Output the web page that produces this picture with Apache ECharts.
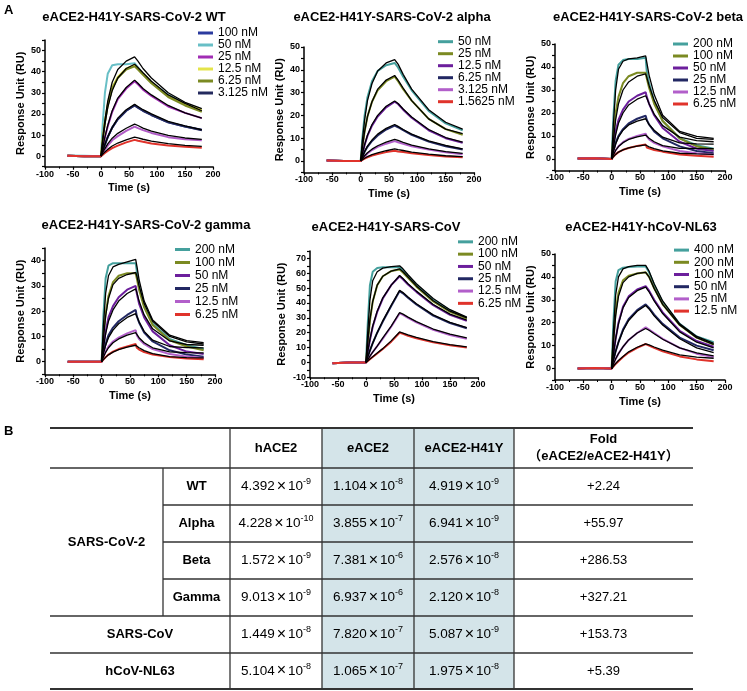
<!DOCTYPE html>
<html><head><meta charset="utf-8">
<script src="https://cdn.jsdelivr.net/npm/echarts@6/dist/echarts.min.js"></script>
<style>html,body{margin:0;padding:0;background:#fff}#c{width:747px;height:691px}</style>
</head><body><div id="c"></div>
<script>
// ---------- DATA ----------
const tData = [-60,-30,0,3,7,12,20,30,45,60,62,66,75,90,120,150,180];
const tFit  = [0,3,7,12,20,30,45,60,62,66,75,90,120,150,180];
const xTicks = [-100,-50,0,50,100,150,200];

const titles = ['eACE2-H41Y-SARS-CoV-2 WT','eACE2-H41Y-SARS-CoV-2 alpha','eACE2-H41Y-SARS-CoV-2 beta',
                'eACE2-H41Y-SARS-CoV-2 gamma','eACE2-H41Y-SARS-CoV','eACE2-H41Y-hCoV-NL63'];

const wtConc = ['100 nM','50 nM','25 nM','12.5 nM','6.25 nM','3.125 nM'];
const wtResp = [
  [0.2,0,0,2.5,5.5,9,13.5,17.5,21.5,24,23.8,23,21.5,19.5,16,14,12.5],
  [0.3,0.2,0,15,30,39,43,43.5,43.5,44,43.5,42,39,35,29,25,22],
  [0.2,0,0,4,9,14,21,27,32,35.5,35,34,31.5,28.5,23.5,20.5,18],
  [0.2,0,0,8,16.5,24.5,32.5,37.5,41.5,43,42.5,41.5,39,35,28.5,24.5,22],
  [0.2,0,0,8,16,24,32,37,41,42.5,42,41,38.5,34.5,28,24,21],
  [0.2,0,0,2.5,5.5,9,13.5,17.5,21.5,24,23.8,23,21.5,19.5,16,14,12.3],
  [0.2,0,0,1.5,3,5,7.5,9.5,12,14,13.8,13.3,12.3,11,9,8,7.5],
  [0.2,0,0,0.7,1.5,2.5,3.8,5,6.5,7.7,7.6,7.3,6.8,6,5,4.4,4]
];
const wtFit = [
  [0,8,17,26,35,41,45,47,46.5,45,41.5,37,30,25.5,22.5],
  [0,7,15,23,31,37,41.5,43.5,43,42,39.5,35.5,29,25,21.5],
  [0,4,9,14.5,21.5,27.5,32.5,36,35.5,34.5,32,29,24,20.5,18],
  [0,2.5,5.5,9,13.5,18,22,24.5,24.2,23.5,22,20,16.5,14.3,12.5],
  [0,1.7,3.6,5.8,8.5,10.8,13.2,15.2,15,14.5,13.3,11.8,9.8,8.6,7.9],
  [0,0.9,2,3.2,4.8,6.2,7.7,9,8.9,8.6,8,7.1,5.9,5.1,4.6]
];

const alphaConc = ['50 nM','25 nM','12.5 nM','6.25 nM','3.125 nM','1.5625 nM'];
const alphaResp = [
  [0.3,0,0,10,20,28,35,39.5,42,43,42.5,41,37,31,22,16.5,13.5],
  [0.2,0,0,6,13,19.5,26,31,35,37,36.5,35,31.5,26.5,18.5,14,11.5],
  [0.2,0,0,3,7,11,15.5,19.5,23.5,26,25.7,25,22.5,19,13.5,10,8],
  [0.2,0,0,1.7,4,6.2,8.8,11.2,13.8,15.5,15.3,14.8,13.5,11.5,8.5,6.5,5],
  [0.2,0,0,1,2,3.3,4.8,6.2,7.6,8.7,8.5,8.2,7.5,6.5,5,3.8,3],
  [0.2,0,0,0.5,1,1.6,2.4,3.1,3.9,4.5,4.4,4.2,3.9,3.4,2.6,2,1.6]
];
const alphaFit = [
  [0,9,18,26.5,34,39.5,43,44.5,44,42.5,38,31.5,22.5,17,14],
  [0,6,13,19.5,26,31.5,35.5,37.5,37,35.5,32,26.5,18.5,14,12],
  [0,3.2,7.2,11.3,16,20,24,26.3,26,25.2,22.8,19.3,13.8,10.3,8.3],
  [0,1.8,4.2,6.5,9.2,11.8,14.3,16,15.8,15.2,13.8,11.8,8.8,6.8,5.3],
  [0,1.1,2.3,3.6,5.2,6.7,8.3,9.5,9.4,9,8.2,7,5.3,4.1,3.3],
  [0,0.6,1.2,1.9,2.8,3.6,4.5,5.3,5.2,5,4.6,3.9,3,2.3,1.9]
];

const betaConc = ['200 nM','100 nM','50 nM','25 nM','12.5 nM','6.25 nM'];
const betaResp = [
  [0.2,0.3,0,18,34,41,43,43.5,43.5,44,38,33,25,16.5,9,6,4.5],
  [0.2,0.3,0,10,20,27,33,36,37.5,37.5,35,31,24,16.5,9,5.5,4],
  [0.2,0.3,0,6,12,17,21.5,25,27.5,29,27,24,19,13.5,7.5,4.5,3.5],
  [0.2,0.3,0,3.5,7,10,13,15.5,17.5,18.8,17,15,12,9,5.5,3.5,2.5],
  [0.2,0.3,0,2,3.8,5.5,7.3,8.7,10,11,9.8,8.5,7,5.5,3.5,2.5,2],
  [0.2,0.3,0,1,2,3,4,4.8,5.7,6.3,5,4.6,3.9,3.2,2,1.4,1]
];
const betaFit = [
  [0,15,30,39,42.5,43.5,44,44.8,42,36.5,28,19,12,9.8,9],
  [0,8,17,24,30,33.5,36,37,35.5,32,25.5,18,11.5,9,8.5],
  [0,5,10.5,15.5,20,23.5,26,27.5,26.5,24,19.5,14.5,9.5,8,7.5],
  [0,3,6.5,9.5,12.5,14.8,16.5,17.5,16.8,15,12.5,9.5,7,6.6,6.5],
  [0,1.8,3.7,5.4,7.1,8.5,9.6,10.4,10,9,7.5,5.8,4.6,4.6,4.5],
  [0,0.9,2,3,4,4.8,5.6,6.1,5.8,5.3,4.5,3.5,2.5,2.2,2]
];

const gammaConc = ['200 nM','100 nM','50 nM','25 nM','12.5 nM','6.25 nM'];
const gammaResp = [
  [0,0,0,18,33,38,39,39,39,39,36,30,22,15,9,6.5,5],
  [0,0,0,10,19,26,31.5,34,35,35,33,28.5,21.5,14.5,8.5,6,4.5],
  [0,0,0,6,12,17.5,22,25.5,28.5,30,27,23,17.5,12,6.5,4,3],
  [0,0,0,3.5,7,10.5,13.5,16,18.5,20.5,18,15.5,11.5,8,4.5,2.8,2],
  [0,0,0,2,4,6,8,9.5,11.2,12.5,10.5,9,7,5,3,2,1.5],
  [0,0,0,0.8,1.8,2.8,4,5,6,7,5.5,4.8,3.8,2.8,1.8,1.3,1]
];
const gammaFit = [
  [0,14,27,34,37.5,38.5,39.5,40.5,38,32.5,24,16.5,10.5,8.3,7.5],
  [0,9,18,25,30.5,33,34.5,35.3,34,30,23,16,10,7.8,7],
  [0,5.5,11,16,20.5,24,27,28.8,27.5,24,18.5,13,8.2,6.8,6.5],
  [0,3.2,6.5,9.5,12.5,15,17.5,19,18,15.8,12,8.5,6,5.6,5.5],
  [0,1.8,3.7,5.5,7.5,9,10.5,11.5,10.8,9.5,7.5,5.5,3.9,3.6,3.5],
  [0,0.8,1.7,2.7,3.8,4.8,5.8,6.5,6.1,5.5,4.4,3.2,2,1.6,1.5]
];

const sarsConc = ['200 nM','100 nM','50 nM','25 nM','12.5 nM','6.25 nM'];
const sarsResp = [
  [-0.5,0,0,25,52,61,63.5,64,64,64,63.5,62,58,52,42,35,30],
  [-0.5,0,0,12,28,41,52,58,61.5,62.5,62,60.5,57,51,41,34,29.5],
  [-0.5,0,0,7,15,24,34,43,52,58,57.5,56,52.5,47.5,38.5,32,28],
  [-0.5,0,0,3.5,8,13,20,27.5,38,48,47.5,46.5,43.5,39,31.5,26.5,23],
  [-0.5,0,0,1.8,4.2,7,11,16,24,33,32.8,32,30,27,22,18.5,16],
  [-0.5,0,0,0.9,2.2,3.7,6,9,14,20,19.8,19.3,18,16.3,13.5,11.5,10]
];
const sarsFit = [
  [0,20,42,55,61,63.5,64.5,65,64.5,63,59,53,43,35.5,30.5],
  [0,13,29,41,52,58,61.5,63,62.5,61,57.5,51.5,41.5,34.5,30],
  [0,7,15.5,24.5,34.5,43.5,52,58.5,58,56.5,53,48,39,32.5,28.5],
  [0,3.5,8,13,20,28,38.5,48.5,48,47,44,39.5,32,27,23.5],
  [0,1.8,4.2,7,11,16.5,24.5,33.5,33.3,32.5,30.5,27.5,22.5,19,16.5],
  [0,1,2.3,3.9,6.3,9.3,14.5,20.5,20.3,19.8,18.5,16.8,14,12,10.5]
];

const nl63Conc = ['400 nM','200 nM','100 nM','50 nM','25 nM','12.5 nM'];
const nl63Resp = [
  [0,0.2,0,20,38,43,44,44.3,44.5,44.5,44,42,36.5,29,19.5,14,11.5],
  [0,0.2,0,12,25,33,38.5,40.5,41.5,42,41.5,40,35,28,19,13.5,10.5],
  [0,0.2,0,6,13,20,27,31.5,34.5,36,35.5,34,30,24.5,16.5,12,9.5],
  [0,0.2,0,3.5,7.5,11.5,17,21.5,25.5,28,27.5,26.5,23.5,19.5,13.5,10,8],
  [0,0.2,0,2,4.2,6.5,9.5,12.5,15.5,18,17.8,17,15.5,13,9,6.5,5],
  [0,0.2,0,0.8,2,3.2,5,7,9,10.7,10.5,10,9,7.5,5.3,4,3.2]
];
const nl63Fit = [
  [0,16,32,40,43.5,44.5,45,45,44.5,42.5,37,29.5,19.5,14,11],
  [0,11,23,31.5,37.5,40,41.5,42,41.5,40,35,28,19,13.5,10.5],
  [0,6,13,19.5,26.5,31,34,35.5,35,33.5,29.5,24,16,11.5,9],
  [0,3.5,7.5,11.5,16.5,21,25,27.5,27,26,23,19,13,9,7],
  [0,2,4.2,6.5,9.5,12.5,15.5,17.5,17.3,16.7,15.2,12.8,9,6.8,5.5],
  [0,1,2.2,3.5,5.3,7.3,9.3,10.8,10.7,10.3,9.4,8,6,5,4.5]
];

// Table B
const tblRows   = ['WT','Alpha','Beta','Gamma'];
const tblGroups = ['SARS-CoV-2','SARS-CoV','hCoV-NL63'];
const tblCols   = ['hACE2','eACE2','eACE2-H41Y'];
const hMant = ['4.392','4.228','1.572','9.013','1.449','5.104'];
const hExp  = ['-9','-10','-9','-9','-8','-8'];
const eMant = ['1.104','3.855','7.381','6.937','7.820','1.065'];
const eExp  = ['-8','-7','-6','-6','-7','-7'];
const yMant = ['4.919','6.941','2.576','2.120','5.087','1.975'];
const yExp  = ['-9','-9','-8','-8','-9','-8'];
const fold  = ['+2.24','+55.97','+286.53','+327.21','+153.73','+5.39'];

// ---------- STYLE / LAYOUT ----------
const FONT = 'Liberation Sans, Noto Sans CJK SC, sans-serif';
const C = {teal:'#45a09d', olive:'#7b8a22', purple:'#6c1f9c', navy:'#222863', orchid:'#b25fca', red:'#e0332b'};
const stdColors = [C.teal, C.olive, C.purple, C.navy, C.orchid, C.red];
const wtColors = ['#2b3b9f','#68bfc6','#a12db4','#e4e44a','#7b8a22','#242a5e','#b05bc6','#e0332b'];

const panels = [
  {title:titles[0], tx:134, ty:17,  conc:wtConc,    resp:wtResp,    fit:wtFit,    colors:wtColors,  g:[45,40,168,126.7],  y:[-5,55], lg:[198,27],  lh:12,   ng:19},
  {title:titles[1], tx:392, ty:17,  conc:alphaConc, resp:alphaResp, fit:alphaFit, colors:stdColors, g:[304,47,170,125.4], y:[-5,50], lg:[438,35.7],lh:12,   ng:19},
  {title:titles[2], tx:648, ty:17,  conc:betaConc,  resp:betaResp,  fit:betaFit,  colors:stdColors, g:[555,44,170,126.5], y:[-5,50], lg:[673,38],  lh:11.7, ng:19},
  {title:titles[3], tx:146, ty:225, conc:gammaConc, resp:gammaResp, fit:gammaFit, colors:stdColors, g:[45,248,170,126.3], y:[-5,45], lg:[175,243], lh:13,   ng:19},
  {title:titles[4], tx:386, ty:227, conc:sarsConc,  resp:sarsResp,  fit:sarsFit,  colors:stdColors, g:[310,251,168,126.3],y:[-10,75],lg:[458,235.7],lh:12.3, ng:23},
  {title:titles[5], tx:641, ty:227, conc:nl63Conc,  resp:nl63Resp,  fit:nl63Fit,  colors:stdColors, g:[555,254,170,126],  y:[-5,50], lg:[674,244], lh:12.2, ng:19}
];

const grid = [], xAxis = [], yAxis = [], series = [], legend = [], graphic = [];

panels.forEach((p, i) => {
  grid.push({left:p.g[0], top:p.g[1], width:p.g[2], height:p.g[3], containLabel:false, outerBoundsMode:'none'});
  xAxis.push({
    gridIndex:i, type:'value', min:xTicks[0], max:xTicks[xTicks.length-1], interval:50,
    axisLine:{show:true, onZero:false, lineStyle:{color:'#000', width:1.5}},
    axisTick:{show:true, length:3, lineStyle:{color:'#000', width:1.2}},
    minorTick:{show:true, splitNumber:2, length:2, lineStyle:{color:'#000', width:1}},
    splitLine:{show:false}, minorSplitLine:{show:false},
    axisLabel:{fontSize:9, fontWeight:'bold', color:'#000', margin:3, fontFamily:FONT},
    name:'Time (s)', nameLocation:'middle', nameGap:16,
    nameTextStyle:{fontSize:11, fontWeight:'bold', color:'#000', fontFamily:FONT}
  });
  yAxis.push({
    gridIndex:i, type:'value', min:p.y[0], max:p.y[1], interval:5,
    axisLine:{show:true, onZero:false, lineStyle:{color:'#000', width:1.5}},
    axisTick:{show:true, length:3, lineStyle:{color:'#000', width:1.2}},
    splitLine:{show:false},
    axisLabel:{fontSize:9, fontWeight:'bold', color:'#000', margin:4, fontFamily:FONT,
      formatter: v => (Math.round(v) % 10 === 0 ? String(Math.round(v)) : '')},
    name:'Response Unit (RU)', nameLocation:'middle', nameGap:p.ng,
    nameTextStyle:{fontSize:11, fontWeight:'bold', color:'#000', fontFamily:FONT}
  });
  const legendNames = [];
  p.resp.forEach((vals, k) => {
    const nm = k < p.conc.length ? i + '|' + p.conc[k] : i + '|extra' + k;
    if (k < p.conc.length) legendNames.push(nm);
    series.push({
      type:'line', name:nm, xAxisIndex:i, yAxisIndex:i, symbol:'none', showSymbol:false, silent:true,
      data: tData.map((t, j) => [t, vals[j]]),
      lineStyle:{width:2, color:p.colors[k]}, itemStyle:{color:p.colors[k]}, z:2
    });
  });
  p.fit.forEach((vals, k) => {
    series.push({
      type:'line', name:i + '|fit' + k, xAxisIndex:i, yAxisIndex:i, symbol:'none', showSymbol:false, silent:true,
      data: tFit.map((t, j) => [t, vals[j]]),
      lineStyle:{width:1.3, color:'#000'}, itemStyle:{color:'#000'}, z:3
    });
  });
  legend.push({
    data: legendNames, left:p.lg[0], top:p.lg[1], orient:'vertical', icon:'rect',
    itemWidth:15, itemHeight:3, itemGap:0, padding:0, selectedMode:false,
    formatter: n => n.split('|')[1],
    textStyle:{fontSize:12, lineHeight:p.lh, color:'#000', fontFamily:FONT}
  });
  graphic.push({type:'text', x:p.tx, y:p.ty, silent:true,
    style:{text:p.title, font:'bold 13px ' + FONT, fill:'#000', align:'center', verticalAlign:'middle', textAlign:'center', textVerticalAlign:'middle'}});
});

// Panel letters
graphic.push({type:'text', x:4, y:10, style:{text:'A', font:'bold 13px ' + FONT, fill:'#000', verticalAlign:'middle', textVerticalAlign:'middle'}});
graphic.push({type:'text', x:4, y:431, style:{text:'B', font:'bold 13px ' + FONT, fill:'#000', verticalAlign:'middle', textVerticalAlign:'middle'}});

// Table layout
const colX = [50,163,230,322,414,514,693];
const rowY = [428,468,505,542,579,616,653,689];
const lineCol = '#333';
graphic.push({type:'rect', z:0, shape:{x:colX[3], y:rowY[0], width:colX[5]-colX[3], height:rowY[7]-rowY[0]}, style:{fill:'#d4e4e9'}});
function hl(y, x1, x2, w) { graphic.push({type:'line', z:5, shape:{x1:x1, y1:y, x2:x2, y2:y}, style:{stroke:lineCol, lineWidth:w}}); }
function vl(x, y1, y2) { graphic.push({type:'line', z:5, shape:{x1:x, y1:y1, x2:x, y2:y2}, style:{stroke:lineCol, lineWidth:1.3}}); }
hl(rowY[0], colX[0], colX[6], 2);
hl(rowY[1], colX[0], colX[6], 1.5);
hl(rowY[2], colX[1], colX[6], 1.3);
hl(rowY[3], colX[1], colX[6], 1.3);
hl(rowY[4], colX[1], colX[6], 1.3);
hl(rowY[5], colX[0], colX[6], 1.5);
hl(rowY[6], colX[0], colX[6], 1.5);
hl(rowY[7], colX[0], colX[6], 2);
vl(colX[1], rowY[1], rowY[5]);
[2,3,4,5].forEach(c => vl(colX[c], rowY[0], rowY[7]));

function txt(x, y, s, bold) {
  graphic.push({type:'text', z:6, x:x, y:y, silent:true,
    style:{text:s, font:(bold ? 'bold ' : '') + '13px ' + FONT, fill:'#000', align:'center', verticalAlign:'middle', textAlign:'center', textVerticalAlign:'middle'}});
}
const rich = {
  m:{fontSize:13.5, lineHeight:18, fontFamily:FONT, color:'#111'},
  x:{fontSize:16, lineHeight:18, fontFamily:FONT, color:'#333', padding:[0,2,0,2]},
  s:{fontSize:9, lineHeight:9, fontFamily:FONT, color:'#111', verticalAlign:'top'}
};
function sci(x, y, m, e) {
  graphic.push({type:'text', z:6, x:x, y:y, silent:true,
    style:{text:'{m|' + m + '}{x|×}{m|10}{s|' + e + '}', rich:rich, align:'center', verticalAlign:'middle', textAlign:'center', textVerticalAlign:'middle'}});
}
const cc = c => (colX[c] + colX[c+1]) / 2;
const rc = r => (rowY[r] + rowY[r+1]) / 2;
tblCols.forEach((h, k) => txt(cc(2 + k), rc(0), h, true));
txt(cc(5), 439.5, 'Fold', true);
txt(cc(5), 456, '（eACE2/eACE2-H41Y）', true);
txt((colX[0] + colX[1]) / 2, (rowY[1] + rowY[5]) / 2, tblGroups[0], true);
tblRows.forEach((r, k) => txt(cc(1), rc(1 + k), r, true));
txt((colX[0] + colX[2]) / 2, rc(5), tblGroups[1], true);
txt((colX[0] + colX[2]) / 2, rc(6), tblGroups[2], true);
for (let r = 0; r < 6; r++) {
  sci(cc(2), rc(r + 1), hMant[r], hExp[r]);
  sci(cc(3), rc(r + 1), eMant[r], eExp[r]);
  sci(cc(4), rc(r + 1), yMant[r], yExp[r]);
  txt(cc(5), rc(r + 1), fold[r], false);
}

const chart = echarts.init(document.getElementById('c'), null, {renderer:'canvas', devicePixelRatio:1});
chart.setOption({
  animation:false, backgroundColor:'#fff',
  textStyle:{fontFamily:FONT},
  grid, xAxis, yAxis, series, legend, graphic
});
</script></body></html>
